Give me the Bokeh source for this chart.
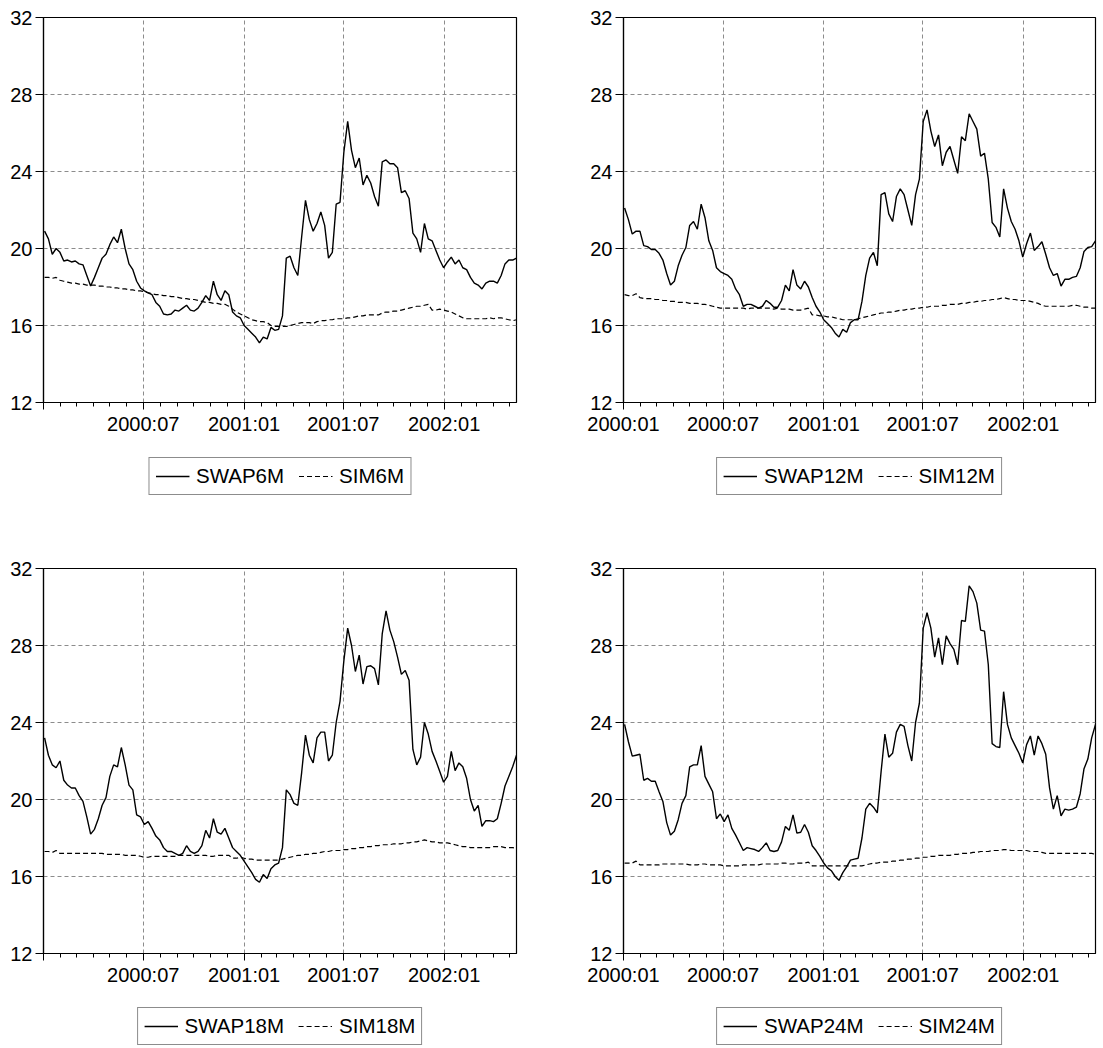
import pandas as pd
from bokeh.plotting import figure
from bokeh.layouts import column, row
from bokeh.models import FixedTicker, DatetimeTickFormatter, Legend, LegendItem, Range1d
from bokeh.embed import file_html
from bokeh.resources import INLINE

dates = pd.date_range("2000-01-03", periods=124, freq="7D")

swap6m = [20.9, 20.5, 19.7, 20.0, 19.8, 19.35, 19.4, 19.3, 19.35, 19.2,
          19.15, 18.6, 18.05, 18.5, 19.0, 19.5, 19.7, 20.2, 20.6, 20.3,
          21.0, 20.0, 19.2, 18.9, 18.3, 17.95, 17.8, 17.7, 17.6, 17.2,
          17.0, 16.6, 16.55, 16.6, 16.8, 16.75, 16.9, 17.05, 16.8, 16.75,
          16.9, 17.2, 17.55, 17.3, 18.3, 17.6, 17.3, 17.8, 17.6, 16.7,
          16.5, 16.4, 16.0, 15.8, 15.6, 15.4, 15.1, 15.4, 15.3, 15.9,
          15.75, 15.8, 16.5, 19.5, 19.6, 19.0, 18.6, 20.6, 22.5, 21.5,
          20.9, 21.3, 21.9, 21.2, 19.5, 19.8, 22.3, 22.4, 25.0, 26.6,
          25.1, 24.2, 24.7, 23.3, 23.8, 23.4, 22.7, 22.2, 24.5, 24.6,
          24.4, 24.4, 24.2, 22.9, 23.0, 22.6, 20.8, 20.5, 19.8, 21.3,
          20.5, 20.4, 19.9, 19.4, 19.0, 19.3, 19.55, 19.2, 19.4, 19.0,
          18.9, 18.5, 18.2, 18.1, 17.9, 18.2, 18.3, 18.3, 18.2, 18.6,
          19.2, 19.4, 19.4, 19.5]
sim6m = [18.5, 18.5, 18.45, 18.5, 18.35, 18.3, 18.25, 18.2, 18.2, 18.15,
         18.15, 18.1, 18.1, 18.1, 18.05, 18.05, 18.0, 18.0, 17.95, 17.95,
         17.9, 17.9, 17.85, 17.85, 17.8, 17.8, 17.75, 17.7, 17.65, 17.6,
         17.6, 17.55, 17.55, 17.5, 17.5, 17.45, 17.4, 17.4, 17.35, 17.35,
         17.3, 17.25, 17.2, 17.2, 17.15, 17.15, 17.1, 17.1, 17.0, 16.85,
         16.7, 16.6, 16.5, 16.4, 16.3, 16.25, 16.2, 16.2, 16.15, 16.0,
         15.95, 15.95, 15.95, 15.95, 16.0, 16.05, 16.1, 16.15, 16.15, 16.15,
         16.1, 16.2, 16.25, 16.25, 16.3, 16.3, 16.35, 16.35, 16.35, 16.4,
         16.4, 16.45, 16.5, 16.5, 16.55, 16.55, 16.55, 16.55, 16.65, 16.7,
         16.7, 16.75, 16.75, 16.8, 16.85, 16.9, 16.95, 17.0, 17.0, 17.05,
         17.1, 16.8, 16.8, 16.85, 16.8, 16.75, 16.7, 16.6, 16.5, 16.4,
         16.35, 16.35, 16.35, 16.35, 16.35, 16.35, 16.4, 16.35, 16.4, 16.4,
         16.35, 16.3, 16.25, 16.3]

swap12m = [22.1, 21.5, 20.75, 20.9, 20.9, 20.15, 20.1, 19.95, 19.95, 19.75,
           19.4, 18.7, 18.1, 18.3, 19.1, 19.65, 20.05, 21.2, 21.4, 21.0,
           22.3, 21.6, 20.4, 19.9, 19.0, 18.8, 18.7, 18.6, 18.4, 17.9,
           17.6, 17.0, 17.1, 17.1, 17.0, 16.9, 17.0, 17.3, 17.15, 16.95,
           16.95, 17.3, 18.1, 17.8, 18.9, 18.1, 17.9, 18.3, 18.0, 17.45,
           17.0, 16.7, 16.3, 16.1, 15.9, 15.6, 15.4, 15.8, 15.65, 16.15,
           16.3, 16.3, 17.25, 18.6, 19.5, 19.8, 19.1, 22.8, 22.9, 21.8,
           21.4, 22.7, 23.1, 22.8, 22.0, 21.2, 22.8, 23.6, 26.6, 27.2,
           26.1, 25.3, 25.9, 24.3, 25.0, 25.3, 24.6, 23.9, 25.8, 25.6,
           27.0, 26.6, 26.2, 24.8, 24.95, 23.6, 21.35, 21.1, 20.6, 23.1,
           22.1, 21.4, 21.0, 20.4, 19.55, 20.25, 20.8, 19.9, 20.1, 20.35,
           19.7, 19.0, 18.6, 18.7, 18.05, 18.4, 18.4, 18.5, 18.55, 19.0,
           19.85, 20.05, 20.1, 20.4]
sim12m = [17.6, 17.55, 17.55, 17.65, 17.45, 17.4, 17.4, 17.4, 17.35, 17.35,
          17.3, 17.3, 17.25, 17.25, 17.2, 17.2, 17.2, 17.15, 17.15, 17.15,
          17.1, 17.1, 17.05, 17.0, 16.95, 16.9, 16.9, 16.9, 16.9, 16.9,
          16.9, 16.9, 16.85, 16.9, 16.9, 16.9, 16.9, 16.9, 16.9, 16.85,
          16.9, 16.85, 16.85, 16.85, 16.8, 16.8, 16.8, 16.85, 16.9, 16.55,
          16.55, 16.5, 16.5, 16.45, 16.45, 16.4, 16.35, 16.3, 16.3, 16.3,
          16.3, 16.35, 16.4, 16.45, 16.5, 16.55, 16.6, 16.65, 16.65, 16.7,
          16.7, 16.75, 16.8, 16.8, 16.85, 16.85, 16.9, 16.9, 16.95, 16.95,
          17.0, 17.0, 17.0, 17.05, 17.05, 17.1, 17.1, 17.1, 17.15, 17.15,
          17.2, 17.2, 17.25, 17.25, 17.3, 17.3, 17.35, 17.35, 17.4, 17.45,
          17.4, 17.35, 17.35, 17.3, 17.3, 17.3, 17.25, 17.2, 17.15, 17.05,
          17.0, 17.0, 17.0, 17.0, 17.0, 17.0, 17.0, 17.05, 17.05, 17.0,
          16.95, 16.95, 16.9, 16.9]

swap18m = [23.2, 22.3, 21.8, 21.65, 22.0, 21.0, 20.75, 20.6, 20.6, 20.2,
           19.9, 19.1, 18.2, 18.45, 19.0, 19.7, 20.1, 21.2, 21.8, 21.7,
           22.7, 21.8, 20.75, 20.5, 19.2, 19.1, 18.7, 18.85, 18.5, 18.1,
           17.9, 17.5, 17.3, 17.3, 17.2, 17.1, 17.2, 17.6, 17.3, 17.2,
           17.3, 17.6, 18.4, 18.0, 19.0, 18.3, 18.2, 18.5, 18.0, 17.5,
           17.3, 17.1, 16.8, 16.5, 16.2, 15.85, 15.7, 16.1, 15.9, 16.4,
           16.6, 16.7, 17.5, 20.5, 20.25, 19.8, 19.7, 21.4, 23.35, 22.3,
           21.9, 23.2, 23.5, 23.5, 22.0, 22.3, 24.0, 25.1, 27.2, 28.9,
           28.0, 26.65, 27.5, 26.0, 26.9, 26.95, 26.8, 25.95, 28.6, 29.8,
           28.8, 28.2, 27.4, 26.5, 26.7, 26.2, 22.6, 21.8, 22.2, 24.0,
           23.4, 22.5, 22.0, 21.45, 20.9, 21.2, 22.5, 21.5, 21.9, 21.7,
           21.1, 20.0, 19.4, 19.7, 18.6, 18.9, 18.9, 18.85, 19.0, 19.8,
           20.7, 21.2, 21.7, 22.3]
sim18m = [17.3, 17.3, 17.25, 17.35, 17.2, 17.2, 17.2, 17.2, 17.2, 17.2,
          17.2, 17.2, 17.2, 17.2, 17.2, 17.2, 17.15, 17.15, 17.15, 17.15,
          17.15, 17.1, 17.1, 17.1, 17.1, 17.05, 17.0, 17.0, 17.05, 17.05,
          17.05, 17.05, 17.05, 17.05, 17.05, 17.1, 17.1, 17.1, 17.1, 17.1,
          17.1, 17.1, 17.1, 17.05, 17.05, 17.1, 17.1, 17.1, 17.1, 16.95,
          16.95, 17.0, 16.95, 16.9, 16.9, 16.85, 16.85, 16.85, 16.85, 16.85,
          16.85, 16.85, 16.9, 16.95, 17.0, 17.05, 17.1, 17.1, 17.15, 17.15,
          17.2, 17.2, 17.25, 17.3, 17.3, 17.35, 17.35, 17.35, 17.4, 17.4,
          17.45, 17.45, 17.5, 17.5, 17.55, 17.55, 17.6, 17.6, 17.65, 17.65,
          17.65, 17.7, 17.7, 17.7, 17.75, 17.75, 17.8, 17.8, 17.85, 17.9,
          17.85, 17.8, 17.8, 17.75, 17.75, 17.75, 17.7, 17.65, 17.6, 17.55,
          17.55, 17.5, 17.5, 17.5, 17.5, 17.5, 17.5, 17.55, 17.55, 17.55,
          17.5, 17.5, 17.5, 17.45]

swap24m = [23.9, 23.0, 22.25, 22.3, 22.35, 21.0, 21.1, 20.95, 20.95, 20.4,
           19.9, 18.8, 18.15, 18.35, 18.95, 19.8, 20.2, 21.7, 21.8, 21.8,
           22.8, 21.2, 20.8, 20.4, 19.0, 19.25, 18.85, 19.2, 18.5, 18.15,
           17.75, 17.35, 17.5, 17.45, 17.4, 17.3, 17.5, 17.75, 17.35, 17.3,
           17.35, 17.8, 18.6, 18.4, 19.2, 18.25, 18.3, 18.7, 18.3, 17.6,
           17.35, 17.05, 16.7, 16.45, 16.3, 16.0, 15.8, 16.2, 16.5, 16.85,
           16.9, 16.95, 18.0, 19.5, 19.8, 19.6, 19.3, 21.45, 23.4, 22.2,
           22.4, 23.5, 23.9, 23.8, 22.8, 22.0, 24.0, 25.0, 28.9, 29.7,
           28.9, 27.4, 28.4, 27.0, 28.5, 28.1, 27.8, 27.0, 29.3, 29.25,
           31.1, 30.8, 30.2, 28.8, 28.75, 27.0, 22.9, 22.75, 22.7, 25.6,
           23.9, 23.2, 22.8, 22.4, 21.9, 22.85, 23.3, 22.3, 23.3, 22.9,
           22.35, 20.6, 19.5, 20.2, 19.15, 19.5, 19.45, 19.5, 19.6, 20.3,
           21.6, 22.1, 23.2, 23.9]
sim24m = [16.7, 16.7, 16.7, 16.8, 16.6, 16.6, 16.6, 16.6, 16.6, 16.6,
          16.65, 16.65, 16.65, 16.65, 16.65, 16.65, 16.65, 16.6, 16.6, 16.6,
          16.65, 16.65, 16.6, 16.6, 16.6, 16.6, 16.55, 16.55, 16.55, 16.55,
          16.55, 16.6, 16.6, 16.6, 16.6, 16.6, 16.65, 16.65, 16.65, 16.65,
          16.65, 16.7, 16.7, 16.65, 16.65, 16.7, 16.7, 16.7, 16.75, 16.55,
          16.55, 16.55, 16.55, 16.55, 16.55, 16.55, 16.55, 16.55, 16.55, 16.55,
          16.55, 16.55, 16.55, 16.6, 16.65, 16.7, 16.7, 16.75, 16.75, 16.75,
          16.8, 16.8, 16.85, 16.85, 16.9, 16.9, 16.95, 16.95, 17.0, 17.0,
          17.05, 17.05, 17.1, 17.1, 17.1, 17.1, 17.15, 17.15, 17.2, 17.2,
          17.2, 17.25, 17.25, 17.3, 17.3, 17.3, 17.35, 17.35, 17.35, 17.4,
          17.4, 17.35, 17.35, 17.35, 17.35, 17.35, 17.3, 17.3, 17.3, 17.25,
          17.2, 17.2, 17.2, 17.2, 17.2, 17.2, 17.2, 17.2, 17.2, 17.2,
          17.2, 17.2, 17.2, 17.15]

y_ticks = [12, 16, 20, 24, 28, 32]
months = pd.date_range("2000-01-01", "2002-05-01", freq="MS")


def to_ms(t):
    return t.timestamp() * 1000


major = [to_ms(t) for t in months if t.month in (1, 7)]
minor = [to_ms(t) for t in months]
FONT = "Liberation Sans"
SWAP_STYLE = dict(line_color="black", line_width=1.4)
SIM_STYLE = dict(line_color="black", line_width=1.2, line_dash="5 3")


def panel(swap, sim, left, top):
    p = figure(x_axis_type="datetime", frame_width=473 if left else 472, frame_height=385,
               x_range=Range1d(months[0], dates[-1]), y_range=Range1d(12, 32),
               min_border_left=43, min_border_right=64 if left else 8,
               min_border_top=17 if top else 56, min_border_bottom=37,
               output_backend="svg", toolbar_location=None)
    p.background_fill_color = "white"
    p.border_fill_color = "white"
    p.outline_line_color = "black"
    p.outline_line_width = 1.2

    p.line(dates, swap, **SWAP_STYLE)
    p.line(dates, sim, **SIM_STYLE)

    # x axis: monthly ticks, labels every six months
    p.xaxis.ticker = FixedTicker(ticks=major, minor_ticks=minor)
    fmt = "%Y:%m"
    p.xaxis.formatter = DatetimeTickFormatter(milliseconds=fmt, seconds=fmt, minsec=fmt, minutes=fmt,
                                              hourmin=fmt, hours=fmt, days=fmt, months=fmt, years=fmt)
    if left:
        p.xaxis.major_label_overrides = {major[0]: ""}
    p.xaxis.major_tick_out = 7
    p.xaxis.major_tick_in = 0
    p.xaxis.minor_tick_out = 4
    p.xaxis.minor_tick_in = 0

    p.yaxis.ticker = FixedTicker(ticks=y_ticks, minor_ticks=[])
    p.yaxis.major_tick_out = 8
    p.yaxis.major_tick_in = 0
    p.yaxis.minor_tick_out = 0
    p.yaxis.minor_tick_in = 0

    p.axis.axis_line_color = "black"
    p.axis.axis_line_width = 1.2
    p.axis.major_tick_line_color = "black"
    p.axis.minor_tick_line_color = "black"
    p.axis.major_label_standoff = 3
    p.axis.major_label_text_font = FONT
    p.axis.major_label_text_font_size = "20px"
    p.axis.major_label_text_color = "black"

    p.xgrid.ticker = FixedTicker(ticks=major[1:])
    p.ygrid.ticker = FixedTicker(ticks=y_ticks[1:-1])
    p.grid.grid_line_color = "#8c8c8c"
    p.grid.grid_line_dash = "4 3"
    p.grid.grid_line_width = 1
    return p


def legend_strip(swap, sim, swap_name, sim_name, left, height, gap):
    # a strip under each chart that only holds its legend box;
    # the series lie far outside its ranges, only the legend swatches show
    lg = figure(x_axis_type="datetime", frame_width=473 if left else 472, frame_height=height,
                min_border_left=43, min_border_right=64 if left else 8,
                min_border_top=0, min_border_bottom=0,
                x_range=Range1d(months[0], dates[-1]), y_range=Range1d(100, 101),
                x_axis_location=None, y_axis_location=None,
                output_backend="svg", toolbar_location=None)
    lg.outline_line_color = None
    lg.grid.visible = False
    r1 = lg.line(dates, swap, **SWAP_STYLE)
    r2 = lg.line(dates, sim, **SIM_STYLE)
    legend = Legend(items=[LegendItem(label=swap_name, renderers=[r1]),
                           LegendItem(label=sim_name, renderers=[r2])],
                    location="top_center", orientation="horizontal", margin=gap)
    legend.label_text_font = FONT
    legend.label_text_font_size = "20.5px"
    legend.label_text_color = "black"
    legend.border_line_color = "#1a1a1a"
    legend.border_line_width = 1.2
    legend.background_fill_color = "white"
    legend.background_fill_alpha = 1
    legend.glyph_width = 34
    legend.label_standoff = 7
    legend.spacing = 14
    legend.padding = 6
    lg.add_layout(legend)
    return lg


p1 = panel(swap6m, sim6m, True, True)
p2 = panel(swap12m, sim12m, False, True)
p3 = panel(swap18m, sim18m, True, False)
p4 = panel(swap24m, sim24m, False, False)
l1 = legend_strip(swap6m, sim6m, "SWAP6M", "SIM6M", True, 73, 18)
l2 = legend_strip(swap12m, sim12m, "SWAP12M", "SIM12M", False, 73, 18)
l3 = legend_strip(swap18m, sim18m, "SWAP18M", "SIM18M", True, 58, 17)
l4 = legend_strip(swap24m, sim24m, "SWAP24M", "SIM24M", False, 58, 17)

p = column(row(p1, p2), row(l1, l2), row(p3, p4), row(l3, l4))

open("out.html", "w").write(file_html(p, INLINE))
